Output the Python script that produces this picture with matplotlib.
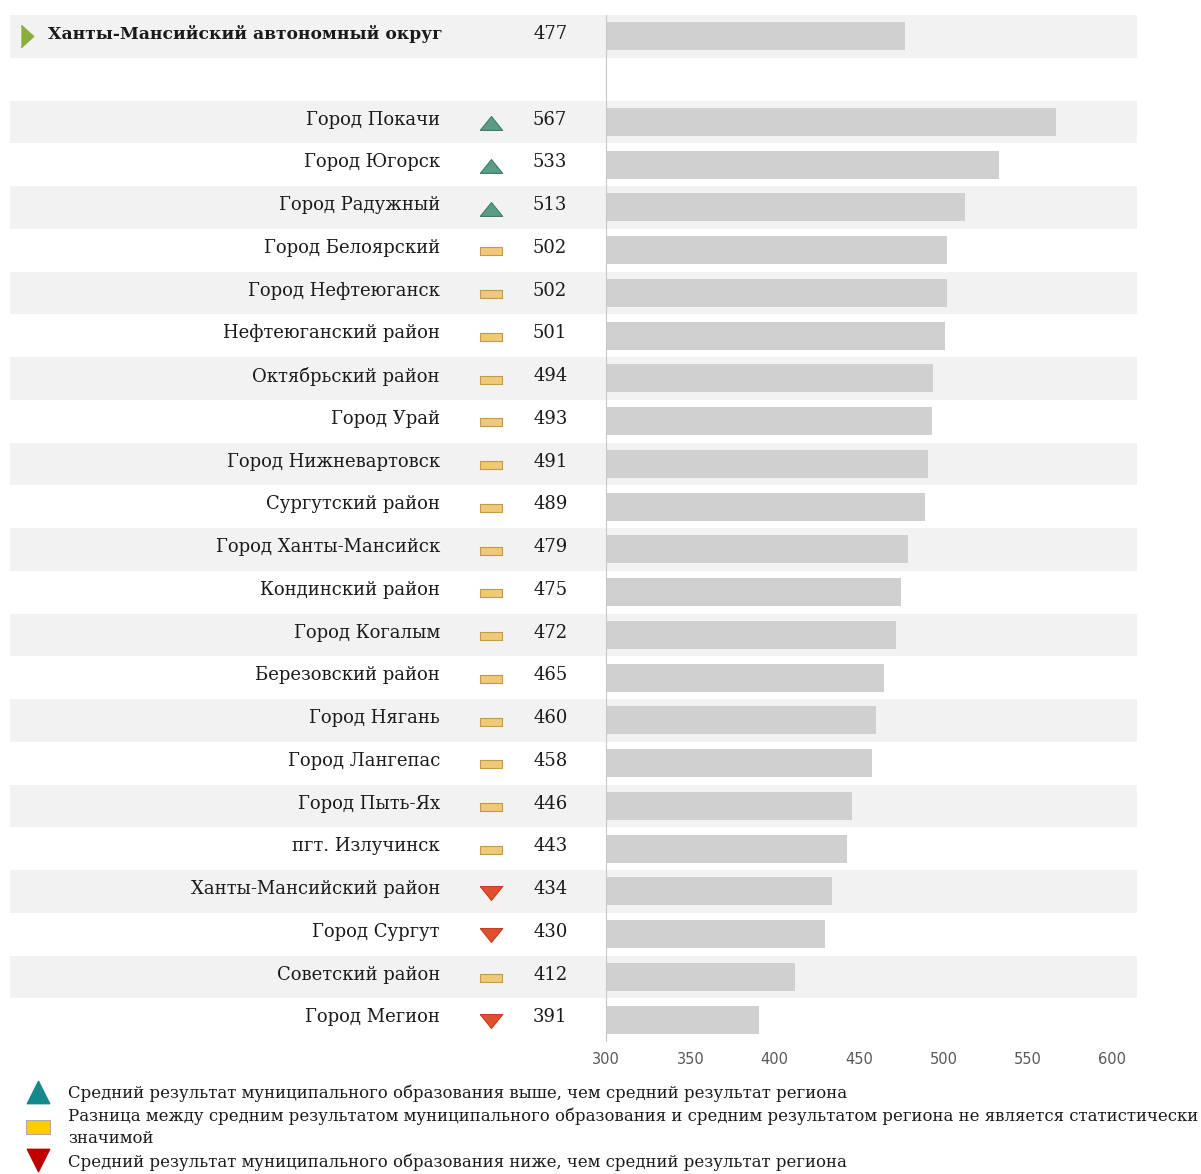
import matplotlib.pyplot as plt
import numpy as np

# Региональный результат и результаты муниципальных образований
region_name = "Ханты-Мансийский автономный округ"
region_score = 477

names = [
    "Город Покачи", "Город Югорск", "Город Радужный", "Город Белоярский",
    "Город Нефтеюганск", "Нефтеюганский район", "Октябрьский район",
    "Город Урай", "Город Нижневартовск", "Сургутский район",
    "Город Ханты-Мансийск", "Кондинский район", "Город Когалым",
    "Березовский район", "Город Нягань", "Город Лангепас", "Город Пыть-Ях",
    "пгт. Излучинск", "Ханты-Мансийский район", "Город Сургут",
    "Советский район", "Город Мегион",
]
scores = [567, 533, 513, 502, 502, 501, 494, 493, 491, 489, 479, 475,
          472, 465, 460, 458, 446, 443, 434, 430, 412, 391]
# 1 - выше региона, 0 - разница незначима, -1 - ниже региона
signif = [1, 1, 1, 0, 0, 0, 0, 0, 0, 0, 0, 0,
          0, 0, 0, 0, 0, 0, -1, -1, 0, -1]

x_ticks = [300, 350, 400, 450, 500, 550, 600]
legend_lines = [
    "Средний результат муниципального образования выше, чем средний результат региона",
    "Разница между средним результатом муниципального образования и средним результатом региона не является статистически",
    "значимой",
    "Средний результат муниципального образования ниже, чем средний результат региона",
]

SERIF = ["DejaVu Serif"]
TXT = "#1a1a1a"
BAND = "#f2f2f2"
BAR = "#d0d0d0"
BASE = 300

W, H = 1201, 1174
fig = plt.figure(figsize=(W / 100, H / 100), dpi=100)

# оси занимают всю ширину полос, шкала 300..600 справа
ax = fig.add_axes([10 / W, 1 - 1041 / H, 1127 / W, 1026 / H])
px = (1112 - 606) / 300
ax.set_xlim(BASE - (606 - 10) / px, 600 + (1137 - 1112) / px)
n_rows = len(names) + 2
ax.set_ylim(n_rows - 0.5, -0.5)


def xpx(p):
    # пиксельная позиция по горизонтали -> координата данных
    return BASE - (606 - p) / px


rows = np.arange(2, n_rows)

# чередующиеся серые полосы
for r in range(0, n_rows, 2):
    ax.axhspan(r - 0.5, r + 0.5, color=BAND, zorder=0, lw=0)

# столбики
ax.barh([0], [region_score - BASE], left=BASE, height=0.66, color=BAR, zorder=2)
ax.barh(rows, np.array(scores) - BASE, left=BASE, height=0.66, color=BAR, zorder=2)

# строка региона
ax.scatter([xpx(27)], [0], marker=[(-0.55, -1), (0.55, 0), (-0.55, 1)], s=260,
           color="#8aae3c", zorder=3)
ax.text(xpx(48), -0.05, region_name, ha="left", va="center", fontsize=12.3,
        fontweight="bold", family=SERIF, color=TXT)
ax.text(xpx(533), -0.05, str(region_score), ha="left", va="center",
        fontsize=13, family=SERIF, color=TXT)

dash = [(-1, -0.38), (1, -0.38), (1, 0.38), (-1, 0.38), (-1, -0.38)]
tri_up = [(-1, -0.62), (1, -0.62), (0, 0.62), (-1, -0.62)]
tri_dn = [(-1, 0.62), (1, 0.62), (0, -0.62), (-1, 0.62)]
styles = {
    1: dict(marker=tri_up, s=260, color="#5a9c86", edgecolors="#3f7d6a", linewidths=0.8),
    0: dict(marker=dash, s=230, color="#f0c878", edgecolors="#c49a4a", linewidths=0.8),
    -1: dict(marker=tri_dn, s=260, color="#e0502e", edgecolors="#c0401f", linewidths=0.8),
}
for y, name, sc, sg in zip(rows, names, scores, signif):
    ax.text(xpx(440), y - 0.05, name, ha="right", va="center", fontsize=13,
            family=SERIF, color=TXT)
    ax.text(xpx(533), y - 0.05, str(sc), ha="left", va="center", fontsize=13,
            family=SERIF, color=TXT)
    ax.scatter([xpx(491)], [y + 0.03], zorder=3, **styles[sg])

# оформление осей
for side in ["top", "right", "bottom"]:
    ax.spines[side].set_visible(False)
ax.spines["left"].set_position(("data", BASE))
ax.spines["left"].set_color("#c8c8c8")
ax.set_yticks([])
ax.set_xticks(x_ticks)
ax.tick_params(axis="x", length=0, pad=8, labelsize=10.5, labelcolor="#595959")

# легенда под графиком
lax = fig.add_axes([0, 0, 1, (H - 1075) / H])
lax.set_xlim(0, W)
lax.set_ylim(H, 1075)
lax.axis("off")
lax.scatter([38], [1092], marker="^", s=260, color="#13898a")
lax.scatter([38], [1127], marker=[(-1, -0.6), (1, -0.6), (1, 0.6), (-1, 0.6), (-1, -0.6)],
            s=300, color="#ffcc00", edgecolors="#a0a0a0", linewidths=0.6)
lax.scatter([38], [1160], marker="v", s=260, color="#c00000")
for i, line in enumerate(legend_lines):
    lax.text(68, 1093 + i * 23, line, ha="left", va="center", fontsize=11.9,
             family=SERIF, color=TXT)

fig.savefig("out.png", dpi=100)
